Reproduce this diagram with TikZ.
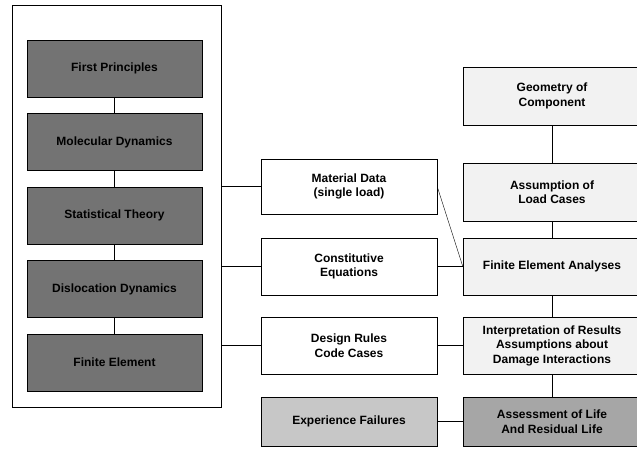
\documentclass[tikz,border=0pt]{standalone}
\usepackage{fontspec}
\setmainfont{Liberation Sans}
\usetikzlibrary{arrows}

\begin{document}
\begin{tikzpicture}[x=1pt, y=-1pt,
		every node/.style={font=\fontsize{12}{14.5}\selectfont\bfseries, align=center, inner sep=0pt},
		scalebox/.style={draw, thick, fill=black!55, minimum width=175pt, minimum height=57pt},
		databox/.style={draw, thin, fill=white, minimum width=176pt},
		stagebox/.style={draw, thin, fill=black!5, minimum width=178pt},
		link/.style={-, thin}]
		\useasboundingbox (0,0) rectangle (637,454);
		% frame round the scale hierarchy
		\node[draw, thin, minimum width=209pt, minimum height=402pt] (frame) at (116.5,206) {};
		\foreach \y/\xtext/\name in {68.5/First Principles/fp,142/Molecular Dynamics/md,215.5/Statistical Theory/st,289/Dislocation Dynamics/dd,362.5/Finite Element/fe}
		\node[scalebox] (\name) at (114.5,\y) {\xtext};
		\draw[link] (fp) -- (md);
		\draw[link] (md) -- (st);
		\draw[link] (st) -- (dd);
		\draw[link] (dd) -- (fe);

		% input data
		\node[databox, minimum height=55pt] (mat) at (349,186.5) {Material Data\\(single load)};
		\node[databox, minimum height=57pt] (con) at (349,266.5) {Constitutive\\Equations};
		\node[databox, minimum height=57pt] (rules) at (349,345.5) {Design Rules\\Code Cases};
		\node[databox, fill=black!22, minimum height=49pt] (exp) at (349,421.5) {Experience Failures};

		% analysis chain
		\node[stagebox, minimum height=58pt] (geo) at (552,96) {Geometry of\\Component};
		\node[stagebox, minimum height=58pt] (load) at (552,192) {Assumption of\\Load Cases};
		\node[stagebox, minimum height=57pt] (fea) at (552,266.5) {Finite Element Analyses};
		\node[stagebox, minimum height=57pt] (interp) at (552,345.5) {Interpretation of Results\\Assumptions about\\Damage Interactions};
		\node[stagebox, fill=black!35, minimum height=49pt] (life) at (552,421.5) {Assessment of Life\\And Residual Life};

		\draw[link] (geo) -- (load);
		\draw[link] (load) -- (fea);
		\draw[link] (fea) -- (interp);
		\draw[link] (interp) -- (life);

		\draw[link] (mat.west) -- (mat.west -| frame.east);
		\draw[link] (con.west) -- (con.west -| frame.east);
		\draw[link] (rules.west) -- (rules.west -| frame.east);
		\draw[link] (mat.east) -- (fea.west);
		\draw[link] (con.east) -- (fea.west);
		\draw[link] (rules.east) -- (interp.west);
		\draw[link] (exp.east) -- (life.west);
	\end{tikzpicture}
\end{document}
